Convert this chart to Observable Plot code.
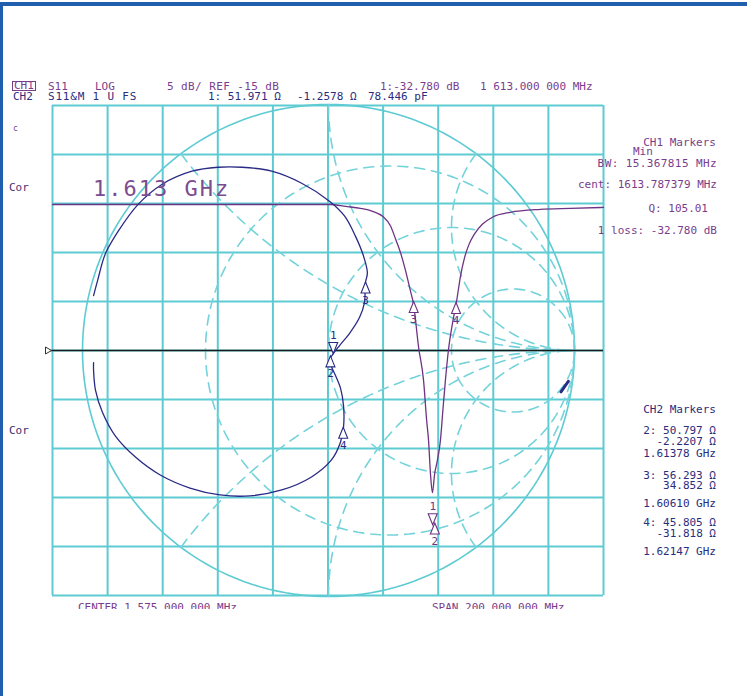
<!DOCTYPE html>
<html><head><meta charset="utf-8">
<script src="https://cdn.jsdelivr.net/npm/d3@7"></script>
<script src="https://cdn.jsdelivr.net/npm/@observablehq/plot@0.6"></script>
<style>
html,body{margin:0;padding:0;background:#fff;overflow:hidden}
#wrap{position:relative;width:747px;height:696px;background:#fff;overflow:hidden;font-family:"DejaVu Sans Mono",monospace;font-size:11px}
#plots svg{position:absolute;left:0;top:0}
.t{position:absolute;white-space:pre;line-height:9px}
.p{color:#7a3d8c}
.n{color:#2c2c7c}
</style></head><body>
<div id="wrap">
<div id="plots"></div>
<div style="position:absolute;left:0;top:2px;width:747px;height:4px;background:#1f5fae"></div>
<div style="position:absolute;left:0;top:2px;width:3px;height:694px;background:#1f5fae"></div>

<div class="t p" style="left:12px;top:81px;border:1px solid #7a3d8c;line-height:8px;padding:0 1px">CH1</div>
<div class="t p" style="left:48px;top:82px">S11</div>
<div class="t p" style="left:95px;top:82px">LOG</div>
<div class="t p" style="left:167px;top:82px;letter-spacing:0.4px">5 dB/ REF -15 dB</div>
<div class="t p" style="left:380px;top:82px">1:-32.780 dB</div>
<div class="t p" style="left:480px;top:82px">1 613.000 000 MHz</div>
<div class="t n" style="left:13px;top:92px">CH2</div>
<div class="t n" style="left:48px;top:92px;letter-spacing:0.8px">S11&amp;M 1 U FS</div>
<div class="t n" style="left:208px;top:92px">1: 51.971 Ω</div>
<div class="t n" style="left:297px;top:92px">-1.2578 Ω</div>
<div class="t n" style="left:368px;top:92px">78.446 pF</div>

<div class="t p" style="left:13px;top:124px;font-size:8px">c</div>
<div class="t" style="left:9px;top:183px;color:#4a3070">Cor</div>
<div class="t" style="left:9px;top:426px;color:#3a3070">Cor</div>

<div class="t p" style="left:93px;top:176px;font-size:22px;line-height:26px;letter-spacing:2px;color:#7d4c90">1.613 GHz</div>

<div class="t p" style="right:31px;top:138px">CH1 Markers</div>
<div class="t p" style="left:633px;top:147px">Min</div>
<div class="t p" style="right:30px;top:159px;letter-spacing:0.4px">BW: 15.367815 MHz</div>
<div class="t p" style="right:30px;top:180px">cent: 1613.787379 MHz</div>
<div class="t p" style="right:39px;top:204px">Q: 105.01</div>
<div class="t p" style="right:30px;top:226px">1 loss: -32.780 dB</div>

<div class="t n" style="right:31px;top:405px">CH2 Markers</div>
<div class="t n" style="right:31px;top:426px">2: 50.797 Ω</div>
<div class="t n" style="right:31px;top:437px">-2.2207 Ω</div>
<div class="t n" style="right:31px;top:449px">1.61378 GHz</div>
<div class="t n" style="right:31px;top:471px">3: 56.293 Ω</div>
<div class="t n" style="right:31px;top:481px">34.852 Ω</div>
<div class="t n" style="right:31px;top:499px">1.60610 GHz</div>
<div class="t n" style="right:31px;top:518px">4: 45.805 Ω</div>
<div class="t n" style="right:31px;top:529px">-31.818 Ω</div>
<div class="t n" style="right:31px;top:547px">1.62147 GHz</div>

<div style="position:absolute;left:0;top:601px;width:747px;height:8px;overflow:hidden">
  <div class="t p" style="left:78px;top:2px">CENTER 1 575.000 000 MHz</div>
  <div class="t p" style="left:432px;top:2px">SPAN 200.000 000 MHz</div>
</div>
</div>
<script>
// ---- axis ticks ----
const freqTicks = [1475,1495,1515,1535,1555,1575,1595,1615,1635,1655,1675];
const dbTicks = [-40,-35,-30,-25,-20,-15,-10,-5,0,5,10];
const refLevel = [-15];
const smithR = [1/3, 1, 3];
const smithX = [0.5, 1, 2, -0.5, -1, -2];

// ---- CH1: S11 log magnitude (MHz, dB) ----
const ch1Freq = [1475.0,1528.7,1575.9,1581.4,1586.8,1591.2,1594.8,1597.7,1599.5,1601.3,1603.1,1604.9,1606.0,1607.9,1609.7,1610.8,1611.5,1612.2,1612.9,1613.7,1614.7,1615.8,1616.7,1617.6,1618.7,1620.2,1621.6,1623.1,1624.5,1626.0,1628.2,1631.1,1634.7,1641.2,1652.1,1663.0,1675.0];
const ch1dB = [-0.1,-0.1,-0.1,-0.3,-0.5,-0.8,-1.3,-2.3,-3.6,-5.0,-6.8,-8.9,-10.2,-14.7,-18.1,-22.1,-24.2,-27.6,-29.5,-27.6,-26.2,-24.2,-21.1,-18.1,-15.0,-12.2,-10.1,-7.4,-5.6,-4.3,-3.1,-2.1,-1.4,-0.9,-0.6,-0.5,-0.4];
const ch1MarkerId = ["1","2","3","4"];
const ch1MarkerFreq = [1613.0, 1613.78, 1606.10, 1621.47];
const ch1MarkerDb = [-32.78, -32.6, -10.0, -10.1];

// ---- CH2: S11 Smith chart (reflection coefficient re, im) ----
const smithRe = [-0.955,-0.939,-0.907,-0.854,-0.773,-0.676,-0.555,-0.449,-0.352,-0.231,-0.109,0.004,0.065,0.109,0.142,0.158,0.150,0.146,0.126,0.085,0.045,0.020,0.008,0.012,0.028,0.049,0.061,0.061,0.049,0.012,-0.069,-0.190,-0.320,-0.441,-0.563,-0.684,-0.785,-0.866,-0.919,-0.947,-0.955,-0.955];
const smithIm = [0.223,0.283,0.393,0.486,0.595,0.676,0.729,0.745,0.745,0.729,0.680,0.607,0.547,0.466,0.385,0.316,0.275,0.194,0.134,0.069,0.020,-0.012,-0.032,-0.065,-0.101,-0.154,-0.223,-0.312,-0.372,-0.445,-0.514,-0.567,-0.591,-0.587,-0.559,-0.506,-0.433,-0.348,-0.251,-0.162,-0.081,-0.049];
const ch2MarkerId = ["1","2","3","4"];
const ch2MarkerRe = [0.0192, 0.0079, 0.1506, 0.0598];
const ch2MarkerIm = [-0.0124, -0.0219, 0.2785, -0.312];
const refStubRe = [0.945, 0.975];
const refStubIm = [-0.168, -0.125];

// ---- styling ----
const cyan = "#5ecbd3", dashCyan = "#74d3da", purple = "#6e3384", navy = "#2a2a86";
const W = 747, H = 696;

const triUp = {draw(c){c.moveTo(0,0);c.lineTo(-4.5,11);c.lineTo(4.5,11);c.closePath();}};
const triDown = {draw(c){c.moveTo(0,0);c.lineTo(-4.5,-11);c.lineTo(4.5,-11);c.closePath();}};
const triRight = {draw(c){c.moveTo(0,0);c.lineTo(-6,-3.5);c.lineTo(-6,3.5);c.closePath();}};

const ch1 = ch1Freq.map((f,i)=>({f, db: ch1dB[i]}));
const ch1M = ch1MarkerId.map((id,i)=>({id, f: ch1MarkerFreq[i], db: ch1MarkerDb[i], down: id==="1"}));
const smith = smithRe.map((re,i)=>({re, im: smithIm[i]}));
const ch2M = ch2MarkerId.map((id,i)=>({id, re: ch2MarkerRe[i], im: ch2MarkerIm[i], down: id==="1"}));
const refStub = refStubRe.map((re,i)=>({re, im: refStubIm[i]}));

// Smith graticule geometry
function rCircle(r){ const c=r/(1+r), R=1/(1+r); return d3.range(0,361,2).map(a=>({re:c+R*Math.cos(a*Math.PI/180), im:R*Math.sin(a*Math.PI/180), k:"r"+r})); }
function xArc(x){ const p=[]; for(let i=0;i<=300;i++){ const rr=Math.tan(i/300*Math.PI/2*0.999); const D=(rr+1)**2+x*x; p.push({re:(rr*rr+x*x-1)/D, im:2*x/D, k:"x"+x}); } return p; }
const grat = [...smithR.flatMap(rCircle), ...smithX.flatMap(xArc)];
const outer = rCircle(0);

const logFrame = {width:W, height:H, marginLeft:52, marginRight:144, marginTop:105, marginBottom:101,
  x:{domain:[1475,1675], axis:null}, y:{domain:[-40,10], axis:null},
  style:{background:"transparent", overflow:"visible"}};
const smithFrame = {width:W, height:H, marginLeft:82, marginRight:173, marginTop:104, marginBottom:100,
  x:{domain:[-1,1], axis:null}, y:{domain:[-1,1], axis:null},
  style:{background:"transparent", overflow:"visible"}};

const p1 = Plot.plot({...logFrame, marks:[
  Plot.ruleX(freqTicks, {stroke:cyan, strokeWidth:2}),
  Plot.ruleY(dbTicks, {stroke:cyan, strokeWidth:2}),
]});

const p2 = Plot.plot({...smithFrame, marks:[
  Plot.line(outer, {x:"re", y:"im", stroke:cyan, strokeWidth:1.6}),
  Plot.line(grat, {x:"re", y:"im", z:"k", stroke:dashCyan, strokeWidth:1.6, strokeDasharray:"10,7"}),
]});

const p3 = Plot.plot({...logFrame, marks:[
  Plot.ruleY(refLevel, {x1:1473.5, x2:1675, stroke:"#1a1a1a", strokeWidth:1.5}),
  Plot.dot(refLevel, {x:()=>1475, y:d=>d, dx:-1, symbol:triRight, stroke:"#333", fill:"white", strokeWidth:1}),
  Plot.line(ch1, {x:"f", y:"db", stroke:purple, strokeWidth:1.3, curve:"monotone-x"}),
  Plot.dot(ch1M, {x:"f", y:"db", symbol:d=>d.down?"dn":"up", stroke:purple, fill:"white", strokeWidth:1.1}),
  Plot.text(ch1M, {x:"f", y:"db", text:"id", dy: -18, filter:d=>d.down, fill:purple, fontSize:11, fontFamily:"DejaVu Sans Mono"}),
  Plot.text(ch1M, {x:"f", y:"db", text:"id", dy: 18, filter:d=>!d.down, fill:purple, fontSize:11, fontFamily:"DejaVu Sans Mono"}),
], symbol:{domain:["dn","up"], range:[triDown, triUp]}});

const p4 = Plot.plot({...smithFrame, marks:[
  Plot.line(smith, {x:"re", y:"im", stroke:navy, strokeWidth:1.3, curve:"catmull-rom"}),
  Plot.line(refStub, {x:"re", y:"im", stroke:navy, strokeWidth:3}),
  Plot.dot(ch2M, {x:"re", y:"im", symbol:d=>d.down?"dn":"up", stroke:navy, fill:"white", strokeWidth:1.1}),
  Plot.text(ch2M, {x:"re", y:"im", text:"id", dy:-18, filter:d=>d.down, fill:navy, fontSize:11, fontFamily:"DejaVu Sans Mono"}),
  Plot.text(ch2M, {x:"re", y:"im", text:"id", dy:18, filter:d=>!d.down, fill:navy, fontSize:11, fontFamily:"DejaVu Sans Mono"}),
], symbol:{domain:["dn","up"], range:[triDown, triUp]}});

const host = document.getElementById("plots");
[p1,p2,p3,p4].forEach(p=>host.appendChild(p));
</script>
</body></html>
